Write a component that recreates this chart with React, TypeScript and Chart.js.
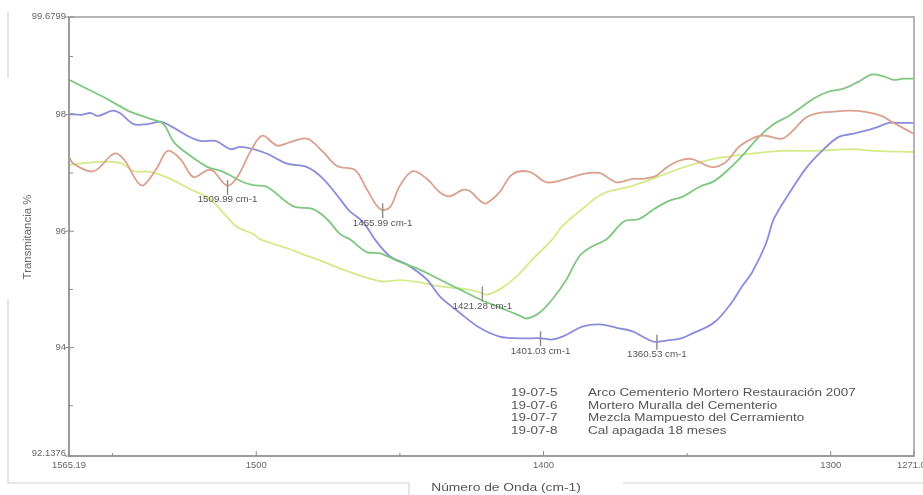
import React, { useEffect, useRef } from "react";
import { Chart, registerables } from "chart.js";
Chart.register(...registerables);

// ---- Data (wavenumber cm-1, transmittance %) ----
const greenW = [1565.19, 1554.2, 1547.2, 1543.8, 1536.8, 1532.3, 1528.7, 1523.9, 1516.9, 1511.5, 1504.5, 1501.0, 1496.2, 1487.2, 1480.2, 1475.4, 1470.8, 1467.4, 1461.5, 1456.9, 1450.0, 1443.1, 1436.1, 1429.2, 1422.2, 1415.3, 1408.3, 1405.9, 1401.4, 1396.9, 1392.0, 1387.5, 1383.0, 1378.1, 1371.9, 1366.7, 1361.5, 1356.3, 1351.7, 1345.8, 1340.6, 1335.4, 1330.2, 1325.0, 1319.8, 1314.6, 1311.1, 1305.9, 1300.7, 1295.5, 1290.3, 1285.8, 1281.6, 1278.2, 1274.7, 1271.01];
const greenT = [98.60, 98.33, 98.14, 98.05, 97.93, 97.84, 97.53, 97.33, 97.10, 97.02, 96.84, 96.79, 96.76, 96.43, 96.38, 96.21, 95.95, 95.86, 95.64, 95.62, 95.47, 95.34, 95.17, 95.00, 94.83, 94.69, 94.55, 94.50, 94.60, 94.83, 95.17, 95.57, 95.74, 95.86, 96.17, 96.21, 96.38, 96.52, 96.59, 96.76, 96.86, 97.07, 97.33, 97.62, 97.84, 97.98, 98.10, 98.28, 98.40, 98.45, 98.57, 98.69, 98.66, 98.60, 98.62, 98.62];

const blueW = [1565.19, 1561.1, 1557.6, 1555.2, 1549.9, 1547.2, 1542.7, 1537.8, 1533.3, 1529.9, 1524.0, 1519.4, 1514.2, 1509.0, 1505.6, 1501.0, 1496.2, 1489.2, 1482.3, 1476.7, 1470.8, 1467.4, 1463.9, 1461.5, 1458.7, 1453.5, 1447.6, 1440.6, 1436.1, 1429.2, 1422.2, 1415.3, 1408.3, 1400.7, 1396.9, 1392.0, 1386.5, 1380.6, 1374.5, 1369.0, 1365.6, 1361.5, 1357.3, 1352.1, 1348.3, 1340.6, 1334.4, 1330.9, 1327.4, 1322.6, 1319.8, 1314.6, 1308.3, 1302.4, 1297.2, 1292.6, 1289.2, 1284.3, 1279.8, 1276.3, 1271.01];
const blueT = [98.02, 98.00, 98.03, 97.98, 98.07, 98.02, 97.84, 97.84, 97.88, 97.81, 97.64, 97.55, 97.55, 97.41, 97.45, 97.41, 97.33, 97.16, 97.10, 96.90, 96.55, 96.34, 96.21, 96.07, 95.86, 95.57, 95.43, 95.17, 94.88, 94.60, 94.34, 94.19, 94.16, 94.16, 94.14, 94.22, 94.36, 94.40, 94.34, 94.28, 94.19, 94.10, 94.12, 94.16, 94.24, 94.43, 94.78, 95.05, 95.29, 95.78, 96.21, 96.64, 97.10, 97.41, 97.62, 97.67, 97.71, 97.78, 97.86, 97.86, 97.86];

const brownW = [1565.19, 1563.6, 1556.6, 1549.6, 1546.2, 1541.3, 1539.2, 1534.4, 1530.9, 1526.4, 1521.9, 1517.0, 1514.9, 1510.1, 1506.6, 1502.1, 1497.9, 1492.7, 1488.2, 1482.3, 1476.7, 1471.9, 1465.6, 1461.5, 1456.9, 1453.5, 1450.0, 1445.5, 1440.6, 1436.1, 1432.6, 1428.1, 1425.7, 1421.5, 1419.8, 1415.3, 1410.8, 1404.9, 1398.9, 1392.0, 1386.5, 1380.6, 1374.5, 1369.0, 1365.6, 1360.8, 1357.3, 1352.8, 1348.3, 1341.3, 1336.5, 1331.9, 1326.0, 1322.6, 1317.0, 1313.5, 1308.7, 1304.2, 1299.7, 1293.8, 1287.9, 1282.3, 1278.8, 1271.01];
const brownT = [97.28, 97.16, 97.03, 97.33, 97.24, 96.84, 96.79, 97.10, 97.38, 97.24, 96.93, 97.05, 97.03, 96.78, 96.93, 97.36, 97.64, 97.47, 97.53, 97.59, 97.36, 97.12, 97.05, 96.72, 96.38, 96.41, 96.78, 97.03, 96.90, 96.67, 96.60, 96.71, 96.69, 96.50, 96.48, 96.67, 96.98, 97.02, 96.84, 96.90, 96.98, 97.00, 96.84, 96.90, 96.90, 96.95, 97.09, 97.21, 97.24, 97.10, 97.19, 97.45, 97.62, 97.64, 97.59, 97.71, 97.95, 98.03, 98.05, 98.07, 98.05, 97.98, 97.88, 97.67];

const yellowW = [1565.19, 1554.2, 1547.2, 1542.7, 1536.8, 1529.9, 1522.9, 1516.0, 1510.1, 1506.6, 1501.0, 1498.6, 1488.2, 1484.7, 1477.8, 1469.8, 1456.9, 1450.0, 1443.1, 1436.1, 1426.7, 1422.2, 1419.8, 1415.3, 1409.4, 1403.8, 1396.9, 1393.4, 1386.5, 1379.5, 1369.0, 1360.4, 1351.7, 1341.3, 1334.4, 1326.0, 1317.0, 1305.2, 1292.6, 1284.7, 1271.01];
const yellowT = [97.14, 97.19, 97.17, 97.03, 97.02, 96.90, 96.72, 96.55, 96.24, 96.07, 95.95, 95.86, 95.69, 95.62, 95.50, 95.34, 95.14, 95.16, 95.12, 95.05, 95.00, 94.95, 94.91, 95.00, 95.22, 95.52, 95.86, 96.09, 96.38, 96.64, 96.78, 96.93, 97.09, 97.24, 97.29, 97.34, 97.38, 97.38, 97.41, 97.38, 97.36];

const yTicks = [92.1376, 93, 94, 95, 96, 97, 98, 99, 99.6799];
const yTickLabels = ["92.1376", "", "94", "", "96", "", "98", "", "99.6799"];
const xTicks = [1565.19, 1550, 1500, 1450, 1400, 1350, 1300, 1271.01];
const xTickLabels = ["1565.19", "", "1500", "", "1400", "", "1300", "1271.01"];

const legendCodes = ["19-07-5", "19-07-6", "19-07-7", "19-07-8"];
const legendNames = [
  "Arco Cementerio Mortero Restauración 2007",
  "Mortero Muralla del Cementerio",
  "Mezcla Mampuesto del Cerramiento",
  "Cal apagada 18 meses",
];

const peakW = [1509.99, 1455.99, 1421.28, 1401.03, 1360.53];
const peakT = [96.76, 96.36, 94.93, 94.16, 94.10];
const peakLabels = ["1509.99 cm-1", "1455.99 cm-1", "1421.28 cm-1", "1401.03 cm-1", "1360.53 cm-1"];

const X_MIN = 1271.01;
const X_MAX = 1565.19;
const Y_MIN = 92.1376;
const Y_MAX = 99.6799;

const FONT = '"Liberation Sans", Arial, sans-serif';

function toPoints(w: number[], t: number[]) {
  return w.map((x, i) => ({ x, y: t[i] }));
}

function drawText(
  ctx: CanvasRenderingContext2D,
  text: string,
  x: number,
  y: number,
  size: number,
  align: CanvasTextAlign,
  sx: number,
  color: string,
  rot = 0
) {
  ctx.save();
  ctx.font = `${size}px ${FONT}`;
  ctx.fillStyle = color;
  ctx.textAlign = align;
  ctx.textBaseline = "middle";
  ctx.translate(x, y);
  if (rot) ctx.rotate(rot);
  ctx.scale(sx, 1);
  ctx.fillText(text, 0, 0);
  ctx.restore();
}

const overlay = {
  id: "overlay",
  afterDatasetsDraw(chart: any) {
    const ctx: CanvasRenderingContext2D = chart.ctx;
    const { left, right, top, bottom } = chart.chartArea;
    const xs = chart.scales.x;
    const ys = chart.scales.y;

    // decorative outer frame fragments
    ctx.save();
    ctx.strokeStyle = "#d4d4d4";
    ctx.lineWidth = 1.2;
    ctx.beginPath();
    ctx.moveTo(8, 12); ctx.lineTo(8, 78);
    ctx.moveTo(8, 299); ctx.lineTo(8, 483); ctx.lineTo(409, 483); ctx.lineTo(409, 495);
    ctx.moveTo(623, 483); ctx.lineTo(923, 483);
    ctx.stroke();
    ctx.restore();

    // plot frame
    ctx.save();
    ctx.strokeStyle = "#b4b4b4";
    ctx.lineWidth = 2;
    ctx.strokeRect(left, top, right - left, bottom - top);
    ctx.strokeStyle = "#9c9c9c";
    ctx.beginPath();
    ctx.moveTo(left, top); ctx.lineTo(left, bottom); ctx.lineTo(right, bottom);
    ctx.stroke();

    // y ticks
    ctx.strokeStyle = "#8c8c8c";
    ctx.lineWidth = 1;
    yTicks.forEach((v, i) => {
      const py = ys.getPixelForValue(v);
      const major = yTickLabels[i] !== "";
      ctx.beginPath();
      ctx.moveTo(major ? left - 4 : left, py);
      ctx.lineTo(left + (major ? 5 : 4), py);
      ctx.stroke();
      if (major) {
        let ly = py;
        if (i === 0) ly = py - 2;
        drawText(ctx, yTickLabels[i], left - 3, ly, 9, "right", 1.05, "#666");
      }
    });
    // x ticks
    xTicks.forEach((v, i) => {
      const px = xs.getPixelForValue(v);
      const major = xTickLabels[i] !== "";
      ctx.beginPath();
      ctx.moveTo(px, bottom);
      ctx.lineTo(px, bottom - (major ? 5 : 3));
      ctx.stroke();
      if (major) drawText(ctx, xTickLabels[i], px, bottom + 10, 9, "center", 1.05, "#666");
    });
    ctx.restore();

    // axis titles
    drawText(ctx, "Transmitancia %", 28, 237, 10.5, "center", 1.09, "#666", -Math.PI / 2);
    drawText(ctx, "Número de Onda (cm-1)", 506, 488, 11.5, "center", 1.2, "#555");

    // peak markers
    ctx.save();
    ctx.strokeStyle = "#8a8a8a";
    ctx.lineWidth = 1.4;
    peakW.forEach((w, i) => {
      const px = xs.getPixelForValue(w);
      const py = ys.getPixelForValue(peakT[i]);
      ctx.beginPath();
      ctx.moveTo(px, py - 7);
      ctx.lineTo(px, py + 8);
      ctx.stroke();
      drawText(ctx, peakLabels[i], px, py + 13, 8.5, "center", 1.15, "#555");
    });
    ctx.restore();

    // legend text
    const ly0 = 393;
    legendCodes.forEach((c, i) => {
      const y = ly0 + i * 12.6;
      drawText(ctx, c, 511, y, 11.5, "left", 1.17, "#555");
      drawText(ctx, legendNames[i], 588, y, 11.5, "left", 1.17, "#555");
    });
  },
};

export default function App() {
  const ref = useRef<HTMLCanvasElement | null>(null);
  useEffect(() => {
    if (!ref.current) return;
    const ds = (label: string, w: number[], t: number[], color: string) => ({
      label,
      data: toPoints(w, t),
      borderColor: color,
      backgroundColor: color,
      borderWidth: 1.8,
      pointRadius: 0,
      tension: 0.35,
      fill: false,
    });
    const chart = new Chart(ref.current, {
      type: "line",
      data: {
        datasets: [
          ds(legendCodes[0], brownW, brownT, "#dca08e"),
          ds(legendCodes[1], greenW, greenT, "#7fc77f"),
          ds(legendCodes[2], blueW, blueT, "#8c8cdc"),
          ds(legendCodes[3], yellowW, yellowT, "#d4ea8a"),
        ],
      },
      options: {
        animation: false,
        responsive: true,
        maintainAspectRatio: false,
        layout: { padding: { left: 69, top: 17, right: 9, bottom: 39 } },
        plugins: { legend: { display: false }, tooltip: { enabled: false } },
        scales: {
          x: { type: "linear", reverse: true, min: X_MIN, max: X_MAX, display: false },
          y: { type: "linear", min: Y_MIN, max: Y_MAX, display: false },
        },
      },
      plugins: [overlay],
    } as any);
    return () => chart.destroy();
  }, []);
  return (
    <div style={{ position: "fixed", left: 0, top: 0, width: 923, height: 495, background: "#fff" }}>
      <canvas ref={ref} />
    </div>
  );
}
